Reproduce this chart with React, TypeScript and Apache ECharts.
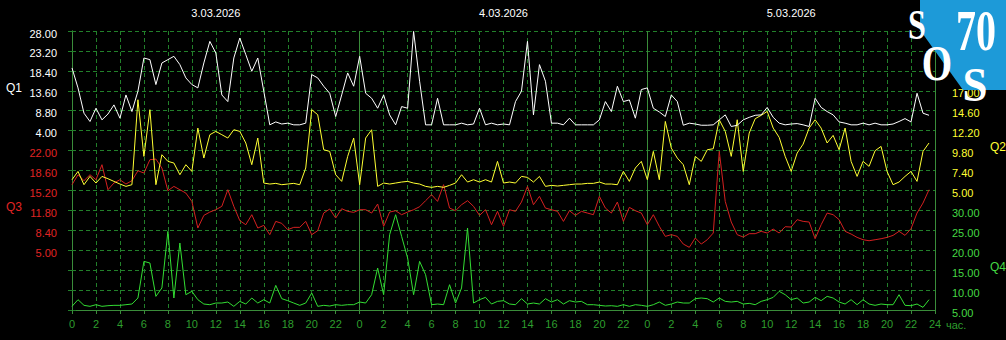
import { useEffect, useRef } from "react";
import * as echarts from "echarts";

const DATES = ["3.03.2026", "4.03.2026", "5.03.2026"];
const Q1_TICKS = ["4.00", "8.80", "13.60", "18.40", "23.20", "28.00"];
const Q3_TICKS = ["5.00", "8.40", "11.80", "15.20", "18.60", "22.00"];
const Q2_TICKS = ["5.00", "7.40", "9.80", "12.20", "14.60", "17.00"];
const Q4_TICKS = ["5.00", "10.00", "15.00", "20.00", "25.00", "30.00"];
const AXIS_NAMES = ["Q1", "Q2", "Q3", "Q4"];
const X_UNIT = "час.";

// one sample every 30 minutes, 3 days
const SAMPLE_HOURS = 0.5;

const Q1 = [
  19.1, 14.3, 8.2, 6.2, 9.4, 6.6, 8.0, 10.2, 7.0, 12.6, 8.6, 13.5, 21.5, 21.1, 15.1, 20.3, 21.1, 21.9, 19.9, 16.7, 15.1, 14.3, 20.3, 25.5,
  22.7, 12.6, 11.0, 21.5, 26.3, 22.3, 18.3, 21.5, 13.5, 5.4, 6.1, 5.6, 5.8, 5.4, 5.4, 5.8, 17.5, 16.7, 14.7, 13.0, 7.4, 12.6, 17.9, 14.7,
  21.9, 13.0, 11.8, 9.4, 12.6, 7.8, 5.4, 9.8, 9.4, 27.9, 15.9, 5.4, 5.4, 11.8, 5.4, 5.4, 5.4, 5.8, 5.4, 5.6, 9.4, 5.4, 5.8, 5.4,
  5.6, 5.4, 11.0, 13.5, 25.5, 7.8, 19.9, 15.9, 5.8, 5.8, 5.4, 7.0, 5.4, 5.4, 5.4, 5.4, 6.6, 11.0, 8.6, 14.7, 11.0, 11.4, 7.0, 13.9,
  14.3, 9.4, 8.5, 7.4, 12.6, 11.0, 5.3, 5.8, 5.6, 5.3, 5.3, 5.4, 6.6, 7.8, 5.0, 5.3, 6.6, 7.2, 7.7, 7.8, 9.6, 7.2, 5.8, 5.4,
  5.6, 5.7, 5.4, 5.0, 11.8, 9.6, 8.6, 7.8, 6.1, 5.8, 5.4, 5.4, 5.8, 5.4, 5.8, 5.4, 5.4, 5.6, 6.2, 6.9, 6.1, 13.0, 8.2, 7.7,
];

const Q2 = [
  6.29, 7.29, 5.69, 6.69, 5.89, 6.69, 6.41, 6.09, 5.77, 5.49, 5.69, 15.92, 9.1, 14.72, 5.69, 9.3, 8.5, 8.3, 6.89, 8.1, 7.29, 12.51, 8.9, 11.71,
  12.11, 11.71, 11.31, 12.31, 12.11, 10.71, 8.1, 11.31, 5.89, 5.77, 5.85, 5.69, 5.77, 5.85, 5.69, 7.7, 14.72, 14.12, 9.9, 9.7, 6.89, 6.09, 9.1, 11.31,
  5.69, 11.31, 12.31, 5.49, 5.89, 5.77, 5.89, 6.01, 6.09, 5.89, 5.77, 5.49, 5.37, 5.49, 5.37, 5.61, 5.89, 6.89, 6.01, 6.29, 6.01, 6.29, 6.01, 8.5,
  5.89, 6.01, 5.89, 6.69, 6.57, 6.01, 6.69, 5.49, 5.61, 5.53, 5.61, 5.69, 5.77, 5.77, 5.85, 5.85, 6.01, 5.77, 5.77, 5.69, 7.29, 6.09, 7.7, 8.5,
  6.29, 9.7, 6.29, 13.31, 10.1, 8.9, 8.1, 5.69, 9.1, 8.5, 9.9, 10.02, 13.51, 12.11, 9.1, 13.51, 7.29, 11.91, 13.64, 14.04, 14.52, 12.51, 11.39, 9.1,
  7.29, 9.5, 10.58, 12.51, 13.51, 12.51, 10.71, 11.63, 9.9, 12.51, 8.5, 6.69, 8.5, 7.9, 9.78, 10.3, 7.29, 5.69, 6.01, 6.69, 7.29, 6.09, 9.7, 10.71,
];

const Q3 = [
  16.18, 17.88, 16.86, 17.88, 17.03, 19.59, 15.32, 16.46, 17.03, 16.29, 16.86, 18.56, 18.17, 20.44, 20.55, 19.02, 15.15, 15.89, 15.32, 14.75, 13.33, 8.78, 10.94, 11.51,
  11.91, 12.48, 15.32, 12.48, 10.04, 9.35, 11.06, 8.78, 9.24, 7.65, 9.92, 9.58, 8.5, 8.9, 8.9, 9.92, 7.65, 8.33, 11.34, 12.03, 10.49, 12.08, 11.63, 11.46,
  11.91, 11.91, 11.34, 12.88, 9.07, 11.51, 11.74, 11.06, 11.51, 11.91, 12.42, 13.45, 14.47, 13.33, 16.18, 12.19, 11.74, 12.76, 13.45, 12.48, 10.94, 11.91, 9.35, 11.63,
  9.07, 11.91, 11.63, 13.22, 15.89, 12.76, 14.19, 12.19, 11.91, 11.63, 9.92, 11.74, 10.94, 11.63, 11.34, 11.06, 14.19, 12.19, 11.34, 13.22, 9.92, 12.31, 11.74, 11.34,
  9.35, 11.06, 9.07, 7.36, 7.65, 7.36, 6.05, 5.49, 7.08, 6.05, 6.79, 7.93, 21.86, 13.33, 9.81, 7.65, 7.25, 7.82, 7.82, 8.22, 7.93, 8.61, 7.93, 9.01,
  8.95, 10.21, 9.92, 9.81, 6.96, 9.35, 11.34, 11.06, 10.21, 8.22, 7.76, 7.19, 6.79, 6.62, 6.79, 6.96, 7.19, 7.53, 8.22, 7.53, 8.67, 11.34, 13.05, 15.32,
];

const Q4 = [
  5.92, 7.59, 6.17, 5.92, 6.33, 5.92, 6.08, 6.17, 6.17, 6.33, 6.5, 8.01, 17.2, 16.79, 8.42, 10.52, 24.73, 8.01, 21.8, 8.84, 9.68, 7.59, 6.5, 6.33,
  6.75, 6.75, 7.0, 5.92, 7.17, 6.5, 8.01, 6.75, 7.59, 6.75, 11.18, 7.84, 7.34, 6.75, 6.17, 6.75, 9.26, 5.92, 6.17, 6.0, 6.33, 6.17, 6.33, 6.33,
  7.0, 6.75, 8.84, 15.53, 8.84, 23.89, 28.91, 23.47, 18.04, 8.84, 17.2, 13.86, 6.33, 6.5, 6.33, 11.35, 6.75, 10.52, 25.57, 6.75, 7.59, 8.17, 6.5, 7.17,
  7.34, 6.5, 6.33, 7.84, 6.5, 6.75, 6.5, 7.84, 7.0, 7.59, 6.5, 7.34, 7.0, 7.17, 6.33, 6.33, 6.17, 6.0, 6.08, 5.92, 6.33, 5.92, 6.33, 6.17,
  5.92, 6.33, 7.0, 6.17, 6.5, 7.0, 6.75, 6.75, 7.84, 8.01, 7.84, 7.0, 8.01, 7.17, 7.0, 7.17, 6.5, 6.67, 6.33, 7.17, 7.59, 8.17, 9.68, 8.84,
  7.59, 8.01, 6.75, 7.0, 8.17, 7.34, 8.42, 8.01, 7.0, 6.5, 7.59, 6.33, 7.59, 6.5, 6.17, 6.5, 6.33, 6.33, 8.84, 6.17, 6.08, 6.5, 5.67, 7.59,
];

const HOURS = Q1.map((_, i) => i * SAMPLE_HOURS);

const C_Q1 = "#ffffff";
const C_Q2 = "#ffff33";
const C_Q3 = "#d42020";
const C_Q3_LABEL = "#e02424";
const C_Q4 = "#33dd33";
const C_Q4_LABEL = "#44d844";
const C_GRID = "#22802a";
const C_FRAME = "#3a8c3a";
const C_XLABEL = "#2e9e2e";
const C_LOGO = "#1d9ad8";
const FONT = "'Liberation Sans', Arial, sans-serif";
const SERIF = "'Liberation Serif', 'Times New Roman', serif";

export default function App() {
  const ref = useRef<HTMLDivElement>(null);

  useEffect(() => {
    if (!ref.current) return;
    const chart = echarts.init(ref.current, undefined, { renderer: "svg" });

    const richBase = { fontSize: 11, fontFamily: FONT };
    const pairs = (arr: number[]) => HOURS.map((h, i) => [h, arr[i]]);

    const logoText = (text: string, x: number, y: number, size: number, scaleY: number) => ({
      type: "text",
      z: 101,
      x,
      y,
      scaleY,
      style: {
        text,
        fill: "#ffffff",
        font: `bold ${size}px ${SERIF}`,
        textAlign: "center",
        textVerticalAlign: "middle",
      },
    });

    const option: any = {
      animation: false,
      backgroundColor: "#000000",
      grid: { left: 72, right: 71, top: 31, bottom: 30, containLabel: false },
      xAxis: [
        {
          type: "value",
          min: 0,
          max: 72,
          interval: 2,
          position: "bottom",
          axisLine: { show: true, lineStyle: { color: C_FRAME, width: 1 } },
          axisTick: { show: true, length: 4, lineStyle: { color: C_FRAME } },
          axisLabel: {
            color: C_XLABEL,
            fontSize: 11,
            fontFamily: FONT,
            margin: 8,
            showMinLabel: true,
            showMaxLabel: true,
            formatter: (v: number) => (v === 72 ? "24" : String(Math.round(v) % 24)),
          },
          splitLine: { show: true, lineStyle: { color: C_GRID, type: [4, 3], width: 1 } },
        },
        {
          type: "value",
          min: 0,
          max: 72,
          interval: 24,
          position: "top",
          axisLine: { show: true, lineStyle: { color: C_FRAME, width: 1 } },
          axisTick: { show: false },
          axisLabel: { show: false },
          splitLine: { show: true, lineStyle: { color: C_FRAME, type: "solid", width: 1 } },
        },
        {
          type: "value",
          min: 0,
          max: 72,
          interval: 12,
          position: "top",
          axisLine: { show: false },
          axisTick: { show: false },
          splitLine: { show: false },
          axisLabel: {
            color: "#ffffff",
            fontSize: 11,
            fontFamily: FONT,
            margin: 13,
            formatter: (v: number) => {
              const d = Math.round(v);
              return d % 24 === 12 ? DATES[(d - 12) / 24] : "";
            },
          },
        },
      ],
      yAxis: [
        {
          type: "value",
          min: 0,
          max: 14,
          interval: 1,
          position: "left",
          axisLine: { show: true, lineStyle: { color: C_FRAME, width: 1 } },
          axisTick: { show: true, length: 4, lineStyle: { color: C_GRID } },
          splitLine: { show: true, lineStyle: { color: C_GRID, type: [4, 3], width: 1 } },
          axisLabel: {
            margin: 15,
            padding: [5, 0, 0, 0],
            formatter: (v: number) => {
              const i = Math.round(v);
              if (i >= 9 && i <= 14) return `{q1|${Q1_TICKS[i - 9]}}`;
              if (i >= 3 && i <= 8) return `{q3|${Q3_TICKS[i - 3]}}`;
              return "";
            },
            rich: {
              q1: { ...richBase, color: C_Q1 },
              q3: { ...richBase, color: C_Q3_LABEL },
            },
          },
        },
        {
          type: "value",
          min: 0,
          max: 14,
          interval: 1,
          position: "right",
          axisLine: { show: true, lineStyle: { color: C_FRAME, width: 1 } },
          axisTick: { show: true, length: 4, lineStyle: { color: C_GRID } },
          splitLine: { show: false },
          axisLabel: {
            margin: 17,
            padding: [5, 0, 0, 0],
            formatter: (v: number) => {
              const i = Math.round(v);
              if (i >= 6 && i <= 11) return `{q2|${Q2_TICKS[i - 6]}}`;
              if (i >= 0 && i <= 5) return `{q4|${Q4_TICKS[i]}}`;
              return "";
            },
            rich: {
              q2: { ...richBase, color: C_Q2 },
              q4: { ...richBase, color: C_Q4_LABEL },
            },
          },
        },
        // hidden per-series scales: each spans the 14 grid rows
        { type: "value", show: false, min: -39.2, max: 28, splitLine: { show: false } },
        { type: "value", show: false, min: -9.4, max: 24.2, splitLine: { show: false } },
        { type: "value", show: false, min: -5.2, max: 42.4, splitLine: { show: false } },
        { type: "value", show: false, min: 5, max: 75, splitLine: { show: false } },
      ],
      series: [
        { name: "Q4", type: "line", xAxisIndex: 0, yAxisIndex: 5, data: pairs(Q4), showSymbol: false, symbol: "none", silent: true, lineStyle: { color: C_Q4, width: 1 } },
        { name: "Q3", type: "line", xAxisIndex: 0, yAxisIndex: 4, data: pairs(Q3), showSymbol: false, symbol: "none", silent: true, lineStyle: { color: C_Q3, width: 1 } },
        { name: "Q2", type: "line", xAxisIndex: 0, yAxisIndex: 3, data: pairs(Q2), showSymbol: false, symbol: "none", silent: true, lineStyle: { color: C_Q2, width: 1 } },
        { name: "Q1", type: "line", xAxisIndex: 0, yAxisIndex: 2, data: pairs(Q1), showSymbol: false, symbol: "none", silent: true, lineStyle: { color: C_Q1, width: 1 } },
      ],
      graphic: [
        { type: "text", x: 6, y: 88, style: { text: AXIS_NAMES[0], fill: C_Q1, font: `12px ${FONT}`, textVerticalAlign: "middle" } },
        { type: "text", x: 6, y: 207, style: { text: AXIS_NAMES[2], fill: C_Q3_LABEL, font: `12px ${FONT}`, textVerticalAlign: "middle" } },
        { type: "text", x: 990, y: 147, style: { text: AXIS_NAMES[1], fill: C_Q2, font: `12px ${FONT}`, textVerticalAlign: "middle" } },
        { type: "text", x: 990, y: 267, style: { text: AXIS_NAMES[3], fill: C_Q4_LABEL, font: `12px ${FONT}`, textVerticalAlign: "middle" } },
        { type: "text", x: 946, y: 325, style: { text: X_UNIT, fill: C_XLABEL, font: `11px ${FONT}`, textVerticalAlign: "middle" } },
        {
          type: "group",
          z: 100,
          children: [
            {
              type: "polygon",
              z: 100,
              shape: { points: [[920, 0], [1006, 0], [1006, 90], [963, 90], [920, 30]] },
              style: { fill: C_LOGO },
            },
            logoText("S", 917, 24, 32, 1.35),
            logoText("70", 976, 31, 40, 1.45),
            logoText("O", 937, 63, 39, 1.3),
            logoText("S", 975, 84, 45, 1.08),
          ],
        },
      ],
    };

    chart.setOption(option);
    return () => chart.dispose();
  }, []);

  return (
    <div
      ref={ref}
      style={{ position: "absolute", left: 0, top: 0, width: 1006, height: 340, background: "#000" }}
    />
  );
}
